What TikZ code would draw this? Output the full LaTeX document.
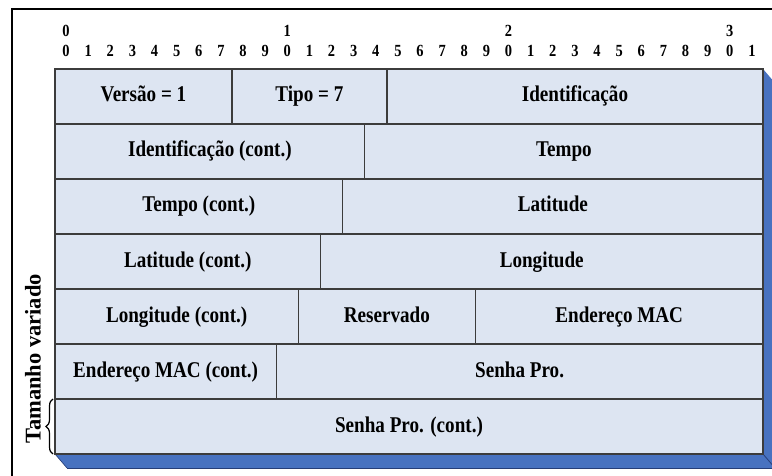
\documentclass[tikz,border=0pt]{standalone}
\usepackage{fontspec}
\setmainfont{Liberation Serif}[FakeStretch=0.85]
\newfontfamily\sideserif{Liberation Serif}
\usetikzlibrary{decorations.pathreplacing}

\definecolor{cellfill}{RGB}{221,229,242}
\definecolor{cellline}{RGB}{60,60,60}
\definecolor{slabblue}{RGB}{72,114,192}
\definecolor{slabdark}{RGB}{38,62,120}

% one bit column is 22.125pt wide, one row is 55pt high
\newcommand\fieldcell[5]{%
  \node[fieldbox, minimum width={(#4-#3)*22.125pt}]
    (#1) at ({55+22.125*(#3+#4)/2}, {-69-55*#2-27.5}) {#5};}

\begin{document}
\begin{tikzpicture}[x=1pt,y=1pt,
  fieldbox/.style={draw=cellline, fill=cellfill, line width=1.3pt,
    minimum height=55pt, inner sep=0pt, outer sep=0pt,
    text height=15pt, text depth=4pt,
    font=\fontsize{22.5}{26}\selectfont\bfseries},
  bitnum/.style={inner sep=0pt, text height=11pt, text depth=0pt,
    font=\fontsize{17}{19}\selectfont\bfseries}]
\useasboundingbox (0,0) rectangle (772,-476);
\clip (0,0) rectangle (772,-476);

% outer frame
\draw[line width=2.2pt] (12,-480) -- (12,-9) -- (780,-9);

% extruded slab under the table
\fill[slabblue] (55,-454) -- (763,-454) -- (763,-69) -- (775,-83)
  -- (775,-468) -- (67,-468) -- cycle;
\draw[slabdark, line width=1pt] (67,-468) -- (775,-468) -- (775,-83);
\draw[slabdark, line width=0.8pt] (763,-454) -- (775,-468);
\draw[slabdark, line width=0.6pt] (55,-454) -- (67,-468);

% bit ruler
\foreach \i in {0,...,31}{
  \pgfmathtruncatemacro\d{mod(\i,10)}
  \node[bitnum] (b\i) at ({55+22.125*(\i+0.5)},-51.5) {\d};
}
\foreach \i/\t in {0/0,10/1,20/2,30/3}{
  \node[bitnum] (t\i) at ({55+22.125*(\i+0.5)},-31.5) {\t};
}

% header fields
\fieldcell{versao}{0}{0}{8}{Versão = 1}
\fieldcell{tipo}{0}{8}{15}{Tipo = 7}
\fieldcell{ident}{0}{15}{32}{Identificação}
\fieldcell{identc}{1}{0}{14}{Identificação (cont.)}
\fieldcell{tempo}{1}{14}{32}{Tempo}
\fieldcell{tempoc}{2}{0}{13}{Tempo (cont.)}
\fieldcell{lat}{2}{13}{32}{Latitude}
\fieldcell{latc}{3}{0}{12}{Latitude (cont.)}
\fieldcell{lon}{3}{12}{32}{Longitude}
\fieldcell{lonc}{4}{0}{11}{Longitude (cont.)}
\fieldcell{res}{4}{11}{19}{Reservado}
\fieldcell{mac}{4}{19}{32}{Endereço MAC}
\fieldcell{macc}{5}{0}{10}{Endereço MAC (cont.)}
\fieldcell{senha}{5}{10}{32}{Senha Pro.}
\fieldcell{senhac}{6}{0}{32}{Senha Pro. (cont.)}

% variable-length marker
\draw[decorate, decoration={brace, amplitude=7pt}, line width=1.2pt]
  (senhac.south west) ++(-2,0) coordinate (brA)
  (senhac.north west) ++(-2,0) coordinate (brB)
  (brA) -- (brB);
\node[rotate=90, inner sep=0pt, font=\sideserif\fontsize{22.5}{26}\selectfont\bfseries]
  (tam) at (33,-359) {Tamanho variado};
\end{tikzpicture}
\end{document}
